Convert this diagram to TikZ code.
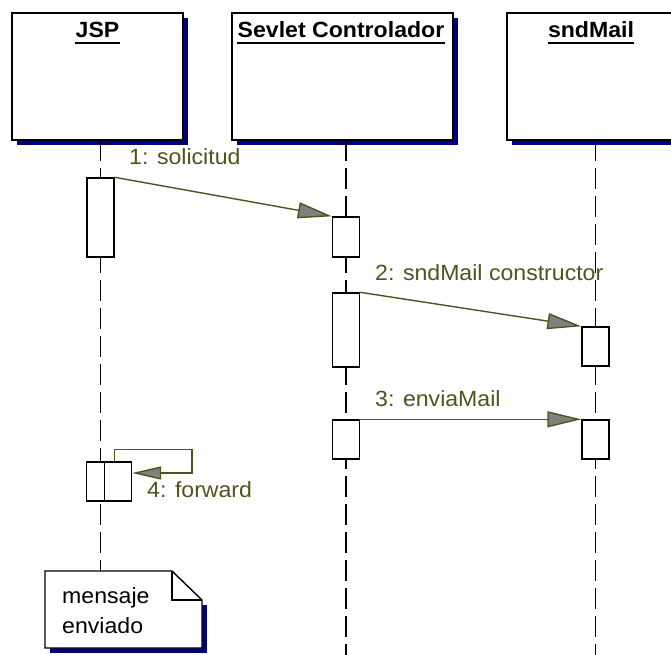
\documentclass[tikz,border=0pt]{standalone}
\usepackage{fontspec}
\setmainfont{Liberation Sans}[FakeStretch=1.05]
\usetikzlibrary{arrows.meta,shadows}
\definecolor{msg}{RGB}{82,82,32}
\definecolor{shad}{RGB}{0,0,128}
\definecolor{headfill}{RGB}{128,128,128}
\begin{document}
\begin{tikzpicture}[x=1pt,y=-1pt,
  objbox/.style={draw=black, fill=white, line width=1.4pt, inner sep=0pt,
    drop shadow={shadow xshift=5pt, shadow yshift=-5pt, fill=shad, opacity=1}},
  lifeline/.style={draw=black, line width=1.5pt, dash pattern=on 21pt off 7pt},
  actbox/.style={draw=black, fill=white, line width=1.4pt, inner sep=0pt, minimum width=27pt},
  msgline/.style={draw=msg, line width=1.4pt, -{Triangle[length=34pt,width=16pt,fill=headfill]}},
  selfline/.style={draw=msg, line width=1.4pt, -{Triangle[length=29pt,width=13pt,fill=headfill]}},
  msglabel/.style={text=msg, font=\fontsize{22}{26}\selectfont, inner sep=0pt, anchor=base west},
  notetext/.style={text=black, font=\fontsize{22}{26}\selectfont, inner sep=0pt, anchor=base west},
  title/.style={font=\bfseries\fontsize{22}{26}\selectfont, inner sep=0pt, anchor=base},
  uline/.style={draw=black, line width=1.6pt}
]
\useasboundingbox (0,0) rectangle (671,654);
\fill[white] (0,0) rectangle (671,654);
\clip (0,0) rectangle (671,654);

% object boxes
\node[objbox, minimum width=171pt, minimum height=127pt] (jsp) at (97.5,76.5) {};
\node[objbox, minimum width=221pt, minimum height=127pt] (serv) at (342.5,76.5) {};
\node[objbox, minimum width=210pt, minimum height=127pt] (snd) at (612,76.5) {};

\node[title] (jspt) at (97.5,37) {JSP};
\node[title] (servt) at (341,37) {Sevlet Controlador};
\node[title] (sndt) at (591,37) {sndMail};
\draw[uline] ([yshift=-6pt]jspt.base west) -- ([yshift=-6pt]jspt.base east);
\draw[uline] ([yshift=-6pt]servt.base west) -- ([yshift=-6pt]servt.base east);
\draw[uline] ([yshift=-6pt]sndt.base west) -- ([yshift=-6pt]sndt.base east);

% end points of lifelines
\coordinate (jtop) at (100.5,140);
\coordinate (stop) at (346,140);
\coordinate (mtop) at (595.5,140);
\coordinate (send) at (346,660);
\coordinate (mend) at (595.5,660);
\coordinate (nmid) at (100.5,571);

\draw[lifeline] (jtop) -- (nmid);
\draw[lifeline] (stop) -- (send);
\draw[lifeline] (mtop) -- (mend);

% activations
\node[actbox, minimum height=79pt] (j1) at (100.5,217.5) {};
\node[actbox, minimum height=40pt] (s1) at (346,237) {};
\node[actbox, minimum height=74pt] (s2) at (346,330) {};
\node[actbox, minimum height=39pt] (m1) at (595.5,346.5) {};
\node[actbox, minimum height=39pt] (s3) at (346,439.5) {};
\node[actbox, minimum height=39pt] (m2) at (595.5,439.5) {};
\node[actbox, minimum height=39pt] (j2) at (100,481.5) {};
\node[actbox, minimum height=39pt] (j3) at (118,481.5) {};

% messages
\draw[msgline] (j1.north east) -- (s1.north west);
\node[msglabel] (l1) at (129,164) {1: solicitud};
\draw[msgline] (s2.north east) -- (m1.north west);
\node[msglabel] (l2) at (375,280) {2: sndMail constructor};
\draw[msgline] (s3.north east) -- (m2.north west);
\node[msglabel] (l3) at (375,406) {3: enviaMail};

\coordinate (fwdc) at (192,473);
\draw[selfline] (j2.north east) -- ++(0,-12) -| (fwdc) -- (fwdc -| j3.east);
\node[msglabel] (l4) at (147,497) {4: forward};

% note
\fill[shad] (50,605) rectangle (207,653);
\draw[fill=white, line width=1.4pt] (45,571) -- (172,571) -- (202,600) -- (202,648) -- (45,648) -- cycle;
\draw[line width=1.4pt] (172,571) -- (172,600) -- (202,600);
\node[notetext] (n1) at (62,603) {mensaje};
\node[notetext] (n2) at (62,633) {enviado};
\end{tikzpicture}
\end{document}
